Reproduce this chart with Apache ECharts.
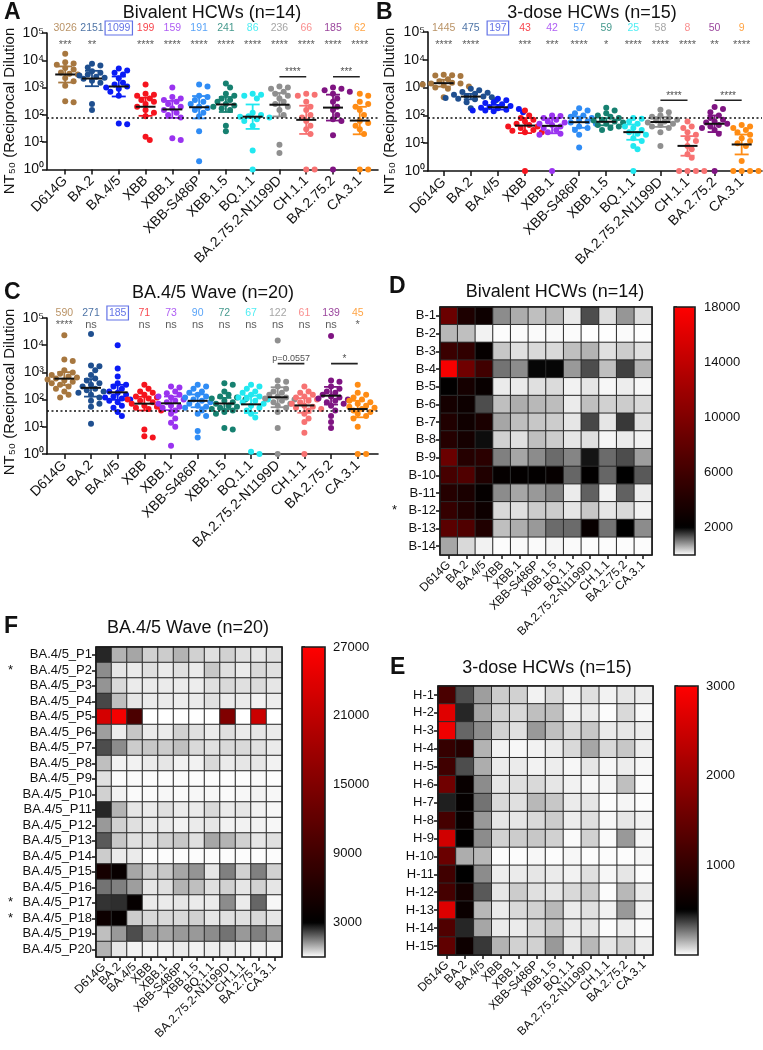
<!DOCTYPE html>
<html><head><meta charset="utf-8">
<script src="https://cdn.jsdelivr.net/npm/echarts@6/dist/echarts.min.js"></script>
<style>html,body{margin:0;padding:0;background:#fff}#c{width:763px;height:1050px}</style>
</head><body><div id="c"></div>
<script>
const FONT = '"Liberation Sans", Arial, Helvetica, sans-serif';
const SUP = ['\u2070','\u00b9','\u00b2','\u00b3','\u2074','\u2075'];

// ---------------- data ----------------
const variants = ['D614G','BA.2','BA.4/5','XBB','XBB.1','XBB-S486P','XBB.1.5','BQ.1.1','BA.2.75.2-N1199D','CH.1.1','BA.2.75.2','CA.3.1'];

// Panel A: Bivalent HCWs (n=14)
const bivalentNT50 = [
 [17400,8400,7600,6900,5200,4600,3600,3250,3000,2250,1700,1180,316,290],
 [7500,6500,5500,4000,3500,3000,2800,2500,2300,2100,1800,1500,250,150],
 [5000,4200,3500,3000,2200,1500,1300,1100,1000,900,700,500,48,45],
 [1300,600,550,500,400,350,300,250,200,150,120,90,16,12],
 [1000,450,400,350,300,250,200,170,150,120,100,80,14,12],
 [1300,1100,500,450,350,300,250,200,180,150,120,90,25,2],
 [1400,1000,600,500,400,350,300,250,220,200,170,150,40,25],
 [600,550,500,400,120,100,90,85,80,70,60,40,5,1],
 [1100,1000,900,700,600,500,400,300,250,200,150,100,8,4],
 [600,550,500,300,200,150,100,80,60,40,30,20,1,1],
 [1000,900,800,700,600,400,300,200,150,100,70,60,18,1],
 [600,500,300,250,200,150,100,60,50,40,30,20,1,1]
];
const bivalentGMT = [3026,2151,1099,199,159,191,241,86,236,66,185,62];
const bivalentSig = ['***','**','','****','****','****','****','****','****','****','****','****'];
const bivalentBrackets = [[8,9,2500,'****'],[10,11,2500,'***']];
const bivalentLOD = 80;

// Panel B: 3-dose HCWs (n=15)
const threeDoseNT50 = [
 [2900,2800,2700,2600,2000,1700,1500,1400,1400,1300,1200,1100,1000,900,450],
 [900,800,700,650,600,550,500,480,450,420,400,380,350,300,180],
 [400,350,300,280,250,220,200,190,180,170,160,150,150,140,130],
 [150,100,80,70,60,50,45,40,40,35,30,28,25,25,1],
 [100,95,80,70,60,55,50,45,40,35,30,25,22,20,1],
 [180,150,120,100,90,80,70,60,55,50,40,35,30,20,7],
 [190,150,120,100,90,80,70,65,60,55,50,45,40,35,30],
 [80,75,60,50,40,35,30,25,22,20,15,12,8,6,1],
 [160,130,100,90,80,70,65,60,55,50,45,40,35,25,8],
 [60,40,35,25,20,15,12,8,6,4,3,1,1,1,1],
 [200,170,130,100,80,70,60,55,50,45,40,35,30,22,1],
 [45,40,35,30,25,20,15,12,10,8,2.3,1,1,1,1]
];
const threeDoseGMT = [1445,475,197,43,42,57,59,25,58,8,50,9];
const threeDoseSig = ['****','****','','***','***','****','*','****','****','****','**','****'];
const threeDoseBrackets = [[8,9,350,'****'],[10,11,350,'****']];
const threeDoseLOD = 80;

// Panel C: BA.4/5 Wave (n=20)
const wave45NT50 = [
 [23000,3000,2600,1200,1000,900,800,700,650,600,550,500,450,400,350,300,250,200,150,120],
 [26000,1800,1700,1200,800,600,500,400,350,300,250,220,200,180,150,120,90,70,55,13],
 [10000,1400,700,400,350,300,250,200,180,150,130,120,110,100,90,80,60,50,35,25],
 [350,250,200,180,150,130,120,110,100,90,80,70,60,55,50,45,40,8,4.5,4],
 [300,280,200,170,150,130,120,100,90,80,70,60,55,50,40,30,20,14,10,2],
 [350,300,250,200,180,150,130,120,100,90,80,70,60,55,50,40,30,25,7,4],
 [400,350,200,150,130,120,110,100,90,80,70,60,55,50,45,40,35,30,9,8],
 [350,300,250,200,180,150,130,120,110,100,90,80,70,60,50,40,30,22,1.2,1],
 [15000,500,450,300,250,200,180,150,130,120,110,100,90,80,70,60,50,35,9,1],
 [300,200,180,150,130,120,100,90,80,70,60,55,50,45,40,30,20,15,6,1],
 [22000,500,450,300,250,200,180,150,130,120,110,100,90,80,70,60,40,25,15,9],
 [350,180,150,120,100,90,80,70,60,55,50,45,40,35,30,25,20,10,1,1]
];
const wave45GMT = [590,271,185,71,73,90,72,67,122,61,139,45];
const wave45Sig = ['****','ns','','ns','ns','ns','ns','ns','ns','ns','ns','*'];
const wave45Brackets = [[8,9,2100,'p=0.0557'],[10,11,2100,'*']];
const wave45LOD = 40;

// Heatmap D: Bivalent HCWs
const bivalentDonors = ['B-1','B-2','B-3','B-4','B-5','B-6','B-7','B-8','B-9','B-10','B-11','B-12','B-13','B-14'];
const bivalentStars = ['','','','','','','','','','','','*','',''];
const bivalentHeat = [
 [8600,3800,2800,900,650,500,560,170,1400,260,820,260],
 [560,500,100,20,30,40,50,30,10,10,40,10],
 [5600,5000,2300,440,240,300,300,500,600,240,400,240],
 [17500,9000,6000,1100,900,1950,1950,800,1400,500,1500,600],
 [2100,3300,2500,160,160,240,280,100,200,60,140,60],
 [3300,2800,1400,500,640,560,520,160,500,360,400,300],
 [4000,3000,3600,700,500,440,400,200,1440,200,1560,240],
 [4300,3300,1900,360,240,500,400,200,240,80,160,100],
 [8600,4300,4600,1000,700,900,1160,960,1840,1160,1400,760],
 [6400,7000,4000,2300,2200,2200,2400,1200,2100,1200,2000,1300],
 [4300,3600,2300,900,700,800,960,160,1240,100,1240,160],
 [5300,4000,2800,300,240,400,400,200,440,200,300,100],
 [7600,7000,4000,500,640,800,1160,1160,2500,1100,2000,900],
 [700,300,100,20,40,40,80,40,20,20,20,20]
];
const bivalentScaleTicks = [2000,6000,10000,14000,18000];
const bivalentScaleMax = 18000;

// Heatmap E: 3-dose HCWs
const threeDoseDonors = ['H-1','H-2','H-3','H-4','H-5','H-6','H-7','H-8','H-9','H-10','H-11','H-12','H-13','H-14','H-15'];
const threeDoseStars = ['','','','','','','','','','','','','','',''];
const threeDoseHeat = [
 [1225,350,190,100,90,25,75,25,60,25,50,35],
 [2700,425,175,90,75,125,125,25,40,5,75,15],
 [2850,300,225,90,60,200,125,75,110,40,50,35],
 [1020,860,150,25,15,25,40,75,175,75,110,35],
 [1130,350,160,40,40,25,35,15,50,15,35,15],
 [1600,580,225,50,60,75,50,25,15,20,125,10],
 [440,550,275,75,60,140,110,40,50,5,20,5],
 [1180,580,200,50,50,75,100,35,60,15,50,25],
 [2540,520,225,90,100,110,90,10,90,10,200,20],
 [1540,160,140,5,5,15,5,15,5,5,5,15],
 [1130,500,225,35,40,50,40,25,60,15,50,5],
 [1180,700,325,50,100,60,50,75,100,5,140,40],
 [2670,600,140,40,75,90,140,40,60,25,200,25],
 [1280,425,175,40,40,75,110,40,50,5,35,5],
 [1440,630,390,150,90,90,200,50,140,50,90,35]
];
const threeDoseScaleTicks = [1000,2000,3000];
const threeDoseScaleMax = 3000;

// Heatmap F: BA.4/5 wave
const wave45Donors = ['BA.4/5_P1','BA.4/5_P2','BA.4/5_P3','BA.4/5_P4','BA.4/5_P5','BA.4/5_P6','BA.4/5_P7','BA.4/5_P8','BA.4/5_P9','BA.4/5_P10','BA.4/5_P11','BA.4/5_P12','BA.4/5_P13','BA.4/5_P14','BA.4/5_P15','BA.4/5_P16','BA.4/5_P17','BA.4/5_P18','BA.4/5_P19','BA.4/5_P20'];
const wave45Stars = ['','*','','','','','','','','','','','','','','','*','*','',''];
const wave45Heat = [
 [2550,900,1050,540,600,900,540,360,540,360,300,360],
 [1350,300,240,360,240,360,240,660,360,240,450,360],
 [1260,450,240,240,240,240,210,360,450,360,420,300],
 [2160,750,300,240,240,210,240,360,240,240,150,210],
 [23000,26000,10000,4,2,4,8,1,15000,1,22000,1],
 [1140,240,660,240,240,540,360,240,360,240,300,240],
 [2100,1350,600,660,600,750,450,360,450,450,360,240],
 [750,150,150,240,300,150,150,450,240,300,300,150],
 [360,30,60,30,30,30,30,30,20,30,60,20],
 [540,150,60,60,90,60,90,90,60,90,150,90],
 [2550,900,300,240,360,240,240,450,240,300,150,90],
 [1200,540,360,240,240,150,240,300,150,150,150,90],
 [1950,660,360,360,540,660,360,1050,900,540,300,360],
 [600,240,240,30,30,30,30,30,30,30,30,30],
 [5000,3750,1050,540,660,1050,1260,300,1500,540,1500,540],
 [1650,1500,1140,300,360,900,750,360,540,300,540,300],
 [2400,2460,3500,240,240,300,240,240,1350,240,1800,90],
 [4200,3500,600,450,450,450,540,300,360,360,450,300],
 [750,1200,2100,1140,1050,1200,1200,1350,1650,1200,1500,1140],
 [900,300,150,150,150,240,150,210,240,150,150,90]
];
const wave45ScaleTicks = [3000,9000,15000,21000,27000];
const wave45ScaleMax = 27000;

// ---------------- styles ----------------
const variantColors = ['#a7773f','#1f4f8f','#0a1bf5','#f5141e','#9a33f0','#2f8cf5','#168070','#22e8f0','#8f8f8f','#f77272','#7f1482','#ff8c14'];
const boxColor = '#3b4fe0';
const INK = '#111';

function heatColors(steps) {
  const cols = ['#ffffff', '#000000'];
  for (let k = 1; k <= steps; k++) { const r = Math.round(255 * k / steps); cols.push('rgb(' + r + ',0,0)'); }
  return cols;
}
function ciBounds(vals, center, t) {
  const logs = vals.map(v => Math.log10(v));
  const m = logs.reduce((a, b) => a + b, 0) / logs.length;
  const sd = Math.sqrt(logs.reduce((a, b) => a + (b - m) * (b - m), 0) / (logs.length - 1));
  const h = t * sd / Math.sqrt(logs.length);
  return [Math.max(1, center / Math.pow(10, h)), center * Math.pow(10, h)];
}
// beeswarm offsets (pixel layout only), returned in axis units
function swarm(values, decadePx, unitPx) {
  const order = values.map((v, i) => i).sort((a, b) => values[b] - values[a]);
  const placed = []; const offs = new Array(values.length).fill(0);
  const D = 5.4, step = 4.2;
  for (const i of order) {
    const y = Math.log10(values[i]) * decadePx;
    let best = 0, bestScore = -1;
    for (let k = 0; k <= 6; k++) {
      const cands = k === 0 ? [0] : [k * step, -k * step];
      let found = false;
      for (const c of cands) {
        let dmin = Infinity;
        for (const p of placed) dmin = Math.min(dmin, Math.hypot(p[0] - c, p[1] - y));
        if (dmin >= D) { best = c; found = true; break; }
        if (dmin > bestScore) { bestScore = dmin; best = c; }
      }
      if (found) break;
    }
    placed.push([best, y]); offs[i] = best / unitPx;
  }
  return offs;
}

const grids = [], xAxes = [], yAxes = [], series = [], visualMaps = [], graphics = [];
const idx12 = variants.map((v, i) => i);

function addScatterPanel(p) {
  const gi = grids.length;
  grids.push({left: p.left, top: p.top, width: p.width, height: p.height, outerBoundsMode: 'none', containLabel: false});
  xAxes.push({gridIndex: gi, type: 'value', min: p.xmin, max: p.xmax,
    axisLine: {show: true, onZero: false, lineStyle: {color: INK, width: 1.6}},
    axisTick: {show: true, customValues: idx12, length: 5, lineStyle: {color: INK, width: 1.5}},
    axisLabel: {show: true, customValues: idx12, formatter: v => variants[Math.round(v)], rotate: 45, fontSize: 14, fontFamily: FONT, color: INK, margin: 9},
    splitLine: {show: false}});
  const yi = yAxes.length;
  yAxes.push({gridIndex: gi, type: 'log', logBase: 10, min: 1, max: 100000,
    axisLine: {show: true, onZero: false, lineStyle: {color: INK, width: 1.6}},
    axisTick: {show: true, length: 5, lineStyle: {color: INK, width: 1.5}},
    minorTick: {show: false}, splitLine: {show: false},
    axisLabel: {formatter: v => '10' + SUP[Math.round(Math.log10(v))], fontSize: 14, fontFamily: FONT, color: INK, margin: 3}});
  const decadePx = p.height / 5, unitPx = p.width / (p.xmax - p.xmin);
  const pts = [];
  p.data.forEach((vals, ci) => {
    const offs = swarm(vals, decadePx, unitPx);
    vals.forEach((v, k) => pts.push([ci + offs[k], v, ci]));
  });
  series.push({type: 'scatter', xAxisIndex: gi, yAxisIndex: yi, data: pts, symbolSize: 6, clip: false, z: 2, silent: true,
    itemStyle: {color: q => variantColors[q.data[2]], opacity: 1},
    markLine: {silent: true, symbol: 'none', label: {show: false}, animation: false,
      lineStyle: {color: INK, type: [2, 2.5], width: 1.6}, data: [{yAxis: p.lod}]}});
  series.push({type: 'custom', xAxisIndex: gi, yAxisIndex: yi, z: 4, silent: true, clip: false,
    data: p.gmt.map((g, i) => { const b = ciBounds(p.data[i], g, p.t); return [i, g, b[0], b[1]]; }),
    encode: {x: 0, y: 1},
    renderItem: (params, api) => {
      const i = api.value(0);
      const c = api.coord([i, api.value(1)]);
      const lo = api.coord([i, api.value(2)]);
      const hi = api.coord([i, api.value(3)]);
      const col = variantColors[i];
      const st = {stroke: col, lineWidth: 1.8};
      return {type: 'group', children: [
        {type: 'line', shape: {x1: c[0], y1: lo[1], x2: c[0], y2: hi[1]}, style: st},
        {type: 'line', shape: {x1: c[0] - 7, y1: lo[1], x2: c[0] + 7, y2: lo[1]}, style: st},
        {type: 'line', shape: {x1: c[0] - 7, y1: hi[1], x2: c[0] + 7, y2: hi[1]}, style: st},
        {type: 'line', shape: {x1: c[0] - 10, y1: c[1], x2: c[0] + 10, y2: c[1]}, style: {stroke: '#111', lineWidth: 2}}
      ]};
    }});
  series.push({type: 'scatter', xAxisIndex: gi, yAxisIndex: yi, symbolSize: 0, silent: true, clip: false, z: 6,
    data: p.gmt.map((g, i) => ({value: [i, 100000], label: i === 2
      ? {color: boxColor, borderColor: boxColor, borderWidth: 1.2, padding: [2, 2, 1, 2]}
      : {color: variantColors[i]}})),
    label: {show: true, position: 'inside', offset: [0, p.numOff], formatter: q => String(p.gmt[q.dataIndex]), fontSize: 10.5, fontFamily: FONT}});
  series.push({type: 'scatter', xAxisIndex: gi, yAxisIndex: yi, symbolSize: 0, silent: true, clip: false, z: 6,
    data: p.sig.map((s, i) => [i, 100000]),
    label: {show: true, position: 'inside', offset: [0, p.sigOff], formatter: q => p.sig[q.dataIndex], fontSize: 11, fontFamily: FONT, color: '#333'}});
  p.brackets.forEach(b => {
    series.push({type: 'line', xAxisIndex: gi, yAxisIndex: yi, symbol: 'none', silent: true, z: 5,
      lineStyle: {color: '#222', width: 1.6}, data: [[b[0], b[2]], [b[1], b[2]]]});
    series.push({type: 'scatter', xAxisIndex: gi, yAxisIndex: yi, symbolSize: 0, silent: true, z: 6,
      data: [[(b[0] + b[1]) / 2, b[2]]],
      label: {show: true, position: 'top', distance: b[3].length > 4 ? 1 : -1, formatter: () => b[3], fontSize: b[3].length > 4 ? 9 : 10, fontFamily: FONT, color: '#222'}});
  });
}

function addHeatPanel(h) {
  const gi = grids.length;
  grids.push({left: h.left, top: h.top, width: h.width, height: h.height, outerBoundsMode: 'none', show: true, borderColor: '#1a1a1a', borderWidth: 1.6, backgroundColor: 'transparent', z: 10});
  xAxes.push({gridIndex: gi, type: 'category', data: variants,
    axisLine: {show: false}, splitLine: {show: false},
    axisTick: {show: true, alignWithLabel: true, length: 4, lineStyle: {color: INK, width: 1.5}},
    axisLabel: {interval: 0, rotate: 45, fontSize: 12, fontFamily: FONT, color: INK, margin: 8}});
  const yi = yAxes.length;
  yAxes.push({gridIndex: gi, type: 'category', data: h.rows, inverse: true,
    axisLine: {show: false}, splitLine: {show: false},
    axisTick: {show: true, alignWithLabel: true, length: 4, lineStyle: {color: INK, width: 1.5}},
    axisLabel: {interval: 0, fontSize: 13, fontFamily: FONT, color: INK, margin: 4}});
  yAxes.push({gridIndex: gi, type: 'category', data: h.rows, inverse: true, position: 'left',
    axisLine: {show: false}, axisTick: {show: false}, splitLine: {show: false},
    axisLabel: {interval: 0, align: 'left', margin: h.starMargin, formatter: (v, i) => h.stars[i], fontSize: 13, fontFamily: FONT, color: INK}});
  const si = series.length;
  const cells = [];
  h.values.forEach((row, r) => row.forEach((v, c) => cells.push([c, r, v])));
  series.push({type: 'heatmap', xAxisIndex: gi, yAxisIndex: yi, data: cells, silent: true,
    itemStyle: {borderColor: '#2b2b2b', borderWidth: 1}, emphasis: {disabled: true}});
  const cgi = grids.length;
  grids.push({left: h.cbLeft, top: h.top, width: h.cbWidth, height: h.height, outerBoundsMode: 'none', show: true, borderColor: '#1a1a1a', borderWidth: 1.6, backgroundColor: 'transparent', z: 10});
  xAxes.push({gridIndex: cgi, type: 'value', show: false});
  yAxes.push({gridIndex: cgi, type: 'value', min: 0, max: h.max, position: 'right',
    axisLine: {show: false}, splitLine: {show: false},
    axisTick: {show: true, customValues: h.ticks, length: 3, lineStyle: {color: INK, width: 1.5}},
    axisLabel: {customValues: h.ticks, formatter: v => String(Math.round(v)), fontSize: 13, fontFamily: FONT, color: INK, margin: h.cbMargin}});
  visualMaps.push({type: 'continuous', seriesIndex: si, dimension: 2, min: 0, max: h.max,
    inRange: {color: h.colors}, left: h.cbLeft, top: h.top, itemWidth: h.cbWidth, itemHeight: h.height,
    calculable: false, padding: 0, orient: 'vertical', show: true, hoverLink: false, text: null});
}

addScatterPanel({left: 47, top: 33, width: 331, height: 136.5, xmin: -0.68, xmax: 11.68, data: bivalentNT50, gmt: bivalentGMT, sig: bivalentSig, brackets: bivalentBrackets, lod: bivalentLOD, t: 2.160, numOff: -5, sigOff: 12});
addScatterPanel({left: 428, top: 32, width: 334, height: 139, xmin: -0.58, xmax: 11.75, data: threeDoseNT50, gmt: threeDoseGMT, sig: threeDoseSig, brackets: threeDoseBrackets, lod: threeDoseLOD, t: 2.145, numOff: -4, sigOff: 13});
addScatterPanel({left: 47, top: 318, width: 331, height: 136, xmin: -0.65, xmax: 11.76, data: wave45NT50, gmt: wave45GMT, sig: wave45Sig, brackets: wave45Brackets, lod: wave45LOD, t: 2.093, numOff: -5, sigOff: 7});

addHeatPanel({left: 440, top: 307, width: 212, height: 248, rows: bivalentDonors, stars: bivalentStars, starMargin: 48, values: bivalentHeat,
  cbLeft: 674, cbWidth: 21, cbMargin: 9, max: bivalentScaleMax, ticks: bivalentScaleTicks, colors: heatColors(8)});
addHeatPanel({left: 96, top: 647, width: 186, height: 310, rows: wave45Donors, stars: wave45Stars, starMargin: 88, values: wave45Heat,
  cbLeft: 302, cbWidth: 23, cbMargin: 8, max: wave45ScaleMax, ticks: wave45ScaleTicks, colors: heatColors(8)});
addHeatPanel({left: 438, top: 686, width: 215, height: 269, rows: threeDoseDonors, stars: threeDoseStars, starMargin: 48, values: threeDoseHeat,
  cbLeft: 675, cbWidth: 23, cbMargin: 8, max: threeDoseScaleMax, ticks: threeDoseScaleTicks, colors: heatColors(5)});

function txt(x, y, text, font, align, rot) {
  const el = {type: 'text', x: x, y: y, silent: true, z: 20,
    style: {text: text, font: font, fill: INK, textAlign: align || 'center', textVerticalAlign: 'middle'}};
  if (rot) el.rotation = rot;
  graphics.push(el);
}
const LETTER = 'bold 23px ' + FONT, TITLE = '18px ' + FONT, YNAME = '15px ' + FONT;
txt(4, 13, 'A', LETTER, 'left');
txt(212, 13, 'Bivalent HCWs (n=14)', TITLE);
txt(376, 13, 'B', LETTER, 'left');
txt(592, 13, '3-dose HCWs (n=15)', TITLE);
txt(4, 293, 'C', LETTER, 'left');
txt(213, 293, 'BA.4/5 Wave (n=20)', TITLE);
txt(389, 287, 'D', LETTER, 'left');
txt(555, 292, 'Bivalent HCWs (n=14)', TITLE);
txt(4, 627, 'F', LETTER, 'left');
txt(188, 628, 'BA.4/5 Wave (n=20)', TITLE);
txt(390, 668, 'E', LETTER, 'left');
txt(547, 668, '3-dose HCWs (n=15)', TITLE);
txt(10, 111, 'NT\u2085\u2080 (Reciprocal Dilution', YNAME, 'center', Math.PI / 2);
txt(390, 111, 'NT\u2085\u2080 (Reciprocal Dilution', YNAME, 'center', Math.PI / 2);
txt(10, 392, 'NT\u2085\u2080 (Reciprocal Dilution', YNAME, 'center', Math.PI / 2);

const chart = echarts.init(document.getElementById('c'), null, {renderer: 'canvas', width: 763, height: 1050});
chart.setOption({
  animation: false,
  backgroundColor: '#ffffff',
  textStyle: {fontFamily: FONT},
  grid: grids, xAxis: xAxes, yAxis: yAxes, series: series, visualMap: visualMaps,
  graphic: {elements: graphics}
});
</script></body></html>
